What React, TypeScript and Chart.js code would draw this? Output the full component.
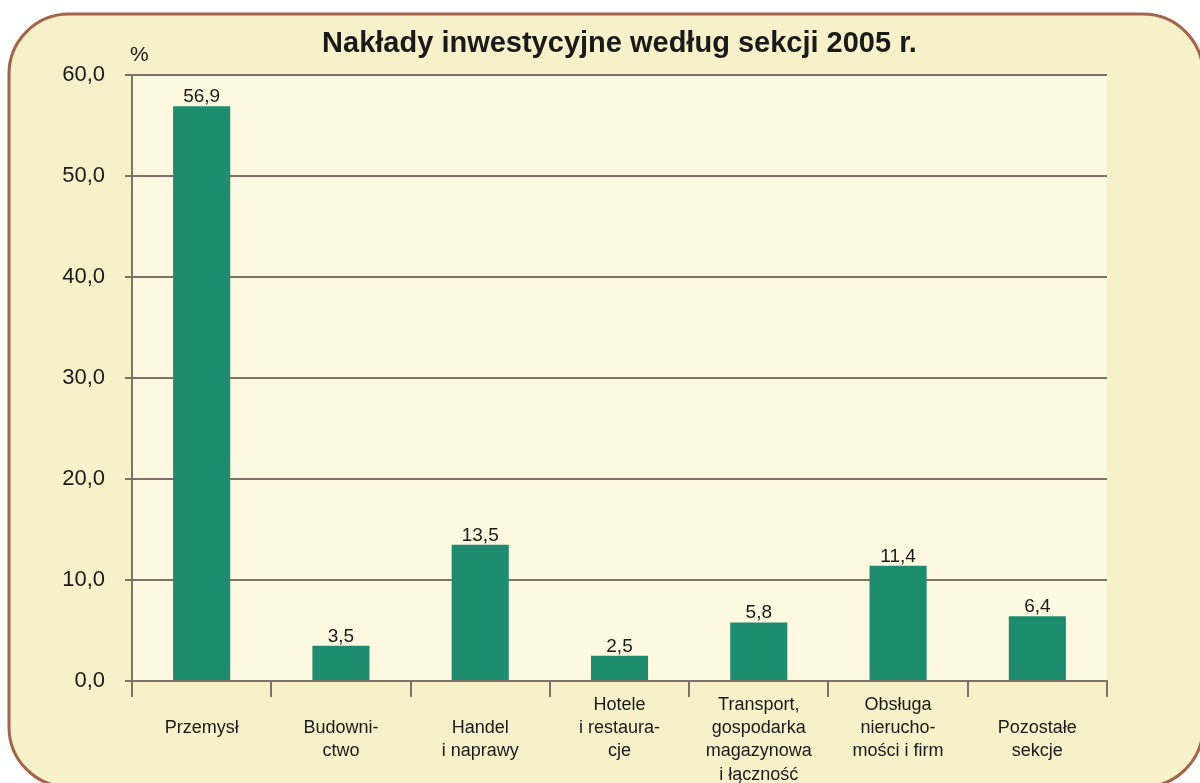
import React, { useEffect, useRef } from "react";
import { Chart, registerables } from "chart.js";

Chart.register(...registerables);

const chartTitle = "Nakłady inwestycyjne według sekcji 2005 r.";
const unitLabel = "%";
const categories: string[][] = [
  ["Przemysł"],
  ["Budowni-", "ctwo"],
  ["Handel", "i naprawy"],
  ["Hotele", "i restaura-", "cje"],
  ["Transport,", "gospodarka", "magazynowa", "i łączność"],
  ["Obsługa", "nierucho-", "mości i firm"],
  ["Pozostałe", "sekcje"],
];
const values = [56.9, 3.5, 13.5, 2.5, 5.8, 11.4, 6.4];
const yMin = 0;
const yMax = 60;
const yStep = 10;

const FONT = "'Liberation Sans', Arial, sans-serif";
const GRID = "#7f7069";

const fmt = (v: number) => v.toFixed(1).replace(".", ",");

export default function App() {
  const ref = useRef<HTMLCanvasElement | null>(null);

  useEffect(() => {
    if (!ref.current) return;

    const bgPlugin = {
      id: "bgPlugin",
      beforeDraw(chart: any) {
        const { ctx, chartArea } = chart;
        ctx.save();
        ctx.fillStyle = "#ffffff";
        ctx.fillRect(0, 0, chart.width, chart.height);
        const x = 9, y = 14, w = 1203 - 9, h = 787 - 14, r = 60;
        ctx.beginPath();
        ctx.moveTo(x + r, y);
        ctx.lineTo(x + w - r, y);
        ctx.arcTo(x + w, y, x + w, y + r, r);
        ctx.lineTo(x + w, y + h - r);
        ctx.arcTo(x + w, y + h, x + w - r, y + h, r);
        ctx.lineTo(x + r, y + h);
        ctx.arcTo(x, y + h, x, y + h - r, r);
        ctx.lineTo(x, y + r);
        ctx.arcTo(x, y, x + r, y, r);
        ctx.closePath();
        ctx.fillStyle = "#f7f1c9";
        ctx.fill();
        ctx.lineWidth = 3;
        ctx.strokeStyle = "#a4644c";
        ctx.stroke();
        ctx.fillStyle = "#fdf9e1";
        ctx.fillRect(chartArea.left, chartArea.top, chartArea.right - chartArea.left, chartArea.bottom - chartArea.top);
        ctx.restore();
      },
      afterDraw(chart: any) {
        const { ctx, chartArea } = chart;
        ctx.save();
        ctx.fillStyle = "#1a1a1a";
        ctx.font = `bold 29px ${FONT}`;
        ctx.textAlign = "center";
        ctx.textBaseline = "alphabetic";
        ctx.fillText(chartTitle, (chartArea.left + chartArea.right) / 2, 52);
        ctx.font = `21px ${FONT}`;
        ctx.textAlign = "left";
        ctx.fillText(unitLabel, 130, 61);
        ctx.restore();
      },
      afterDatasetsDraw(chart: any) {
        const { ctx } = chart;
        const meta = chart.getDatasetMeta(0);
        ctx.save();
        ctx.fillStyle = "#1a1a1a";
        ctx.font = `19px ${FONT}`;
        ctx.textAlign = "center";
        ctx.textBaseline = "alphabetic";
        meta.data.forEach((bar: any, i: number) => {
          ctx.fillText(fmt(values[i]), bar.x, bar.y - 4);
        });
        ctx.restore();
      },
    };

    const labels = categories.map((c) => (c.length <= 2 ? ["", ...c] : c));

    const chart = new Chart(ref.current, {
      type: "bar",
      data: {
        labels,
        datasets: [
          {
            data: values,
            backgroundColor: "#1e8c6e",
            borderWidth: 0,
            barPercentage: 0.41,
            categoryPercentage: 1,
          },
        ],
      },
      options: {
        responsive: false,
        animation: false,
        layout: { padding: { top: 75, right: 93, left: 0, bottom: 0 } },
        plugins: {
          legend: { display: false },
          title: { display: false },
          tooltip: { enabled: false },
        },
        scales: {
          x: {
            afterFit(scale: any) {
              scale.height = 102;
            },
            grid: {
              offset: true,
              drawOnChartArea: false,
              drawTicks: true,
              tickLength: 16,
              color: GRID,
              lineWidth: 2,
            },
            border: { display: true, color: GRID, width: 2 },
            ticks: {
              color: "#1a1a1a",
              font: { family: FONT, size: 18, lineHeight: 1.3 },
              padding: -4,
              maxRotation: 0,
              autoSkip: false,
            },
          },
          y: {
            min: yMin,
            max: yMax,
            afterFit(scale: any) {
              scale.width = 132;
            },
            grid: {
              color: GRID,
              lineWidth: 2,
              tickLength: 7,
            },
            border: { display: true, color: GRID, width: 2 },
            ticks: {
              stepSize: yStep,
              color: "#1a1a1a",
              font: { family: FONT, size: 22 },
              padding: 20,
              callback: (v: any) => fmt(Number(v)),
            },
          },
        },
      },
      plugins: [bgPlugin],
    });

    return () => chart.destroy();
  }, []);

  return (
    <div style={{ position: "absolute", left: 0, top: 0, width: 1200, height: 783 }}>
      <canvas ref={ref} width={1200} height={783} style={{ display: "block" }} />
    </div>
  );
}
